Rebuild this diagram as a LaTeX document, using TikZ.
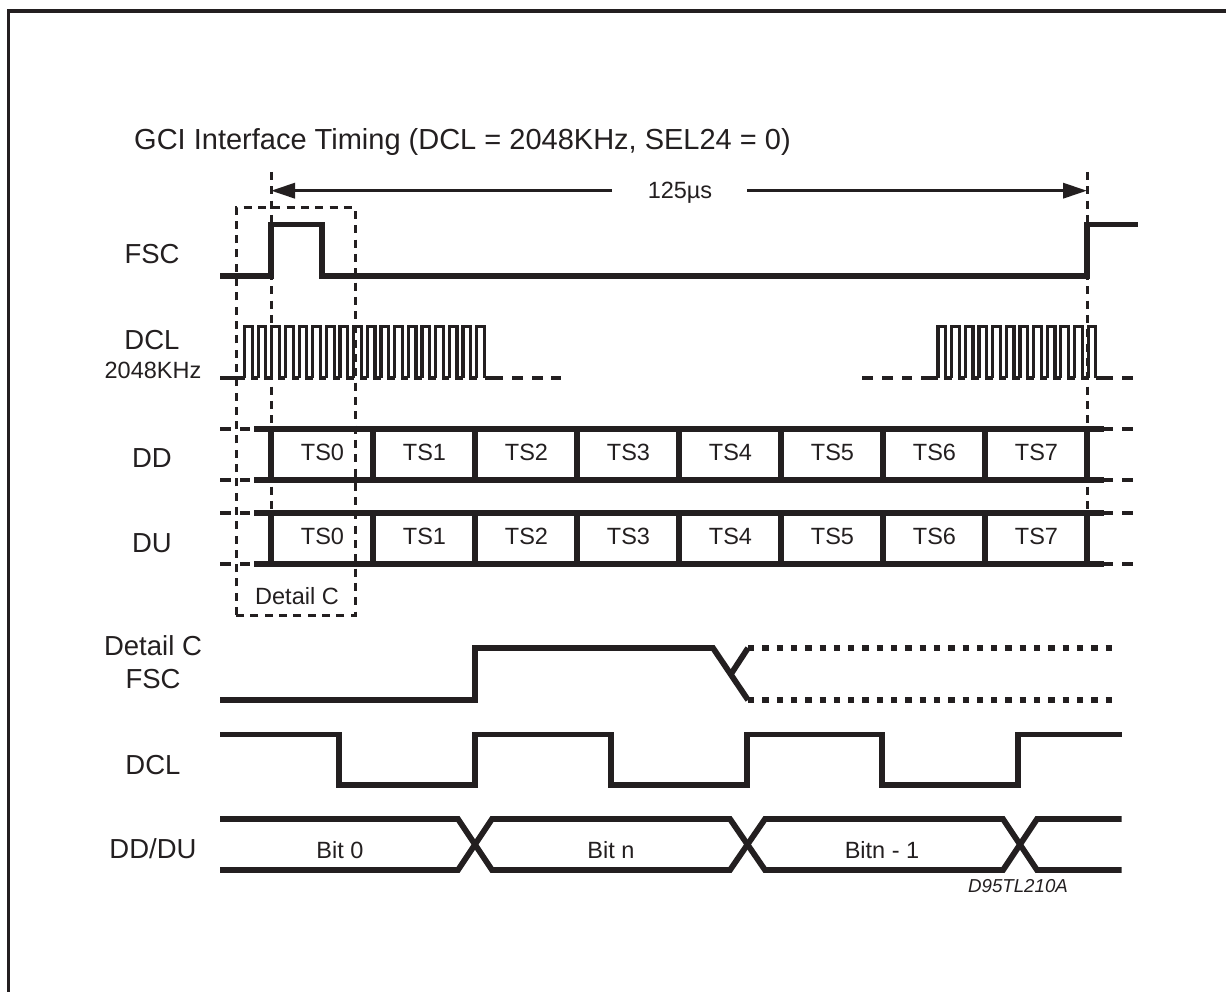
\documentclass[tikz,border=0pt]{standalone}
\usepackage{fontspec}
\setmainfont{Liberation Sans}
\usetikzlibrary{arrows.meta}
\definecolor{ink}{HTML}{231F20}
\tikzset{
  x=1pt,y=-1pt,
  frameline/.style={ink,line width=3.2pt},
  thick wave/.style={ink,line width=5.8pt,line cap=butt,line join=miter},
  thin wave/.style={ink,line width=3.2pt,line join=miter},
  guide/.style={ink,line width=3pt,dash pattern=on 8pt off 6.3pt},
  lowdash/.style={ink,line width=4pt},
  dots/.style={ink,line width=5.8pt,dash pattern=on 6.3pt off 8pt},
  measure/.style={ink,line width=3.4pt},
  big/.style={text=ink,inner sep=0pt,anchor=base,font=\fontsize{27.5}{27.5}\selectfont},
  titletext/.style={text=ink,inner sep=0pt,anchor=base,font=\fontsize{29}{29}\selectfont},
  small/.style={text=ink,inner sep=0pt,anchor=base,font=\fontsize{23.5}{23.5}\selectfont},
  ref/.style={text=ink,inner sep=0pt,anchor=base,font=\fontsize{18.7}{18.7}\selectfont\itshape},
}
\newcommand{\clkpulses}[3]{% start x, count, y unused
  \foreach \k in {1,...,#2}{
    \pgfmathsetmacro{\xa}{#1+(\k-1)*13.65}
    \pgfmathsetmacro{\xb}{\xa+7.7}
    \pgfmathsetmacro{\xc}{\xa+13.65}
    \ifnum\k<#2
      \draw[thin wave] (\xa,378) -- (\xa,326.5) -- (\xb,326.5) -- (\xb,378) -- (\xc,378);
    \else
      \draw[thin wave] (\xa,378) -- (\xa,326.5) -- (\xb,326.5) -- (\xb,378);
    \fi
  }
}
\begin{document}
\begin{tikzpicture}
\useasboundingbox (0,0) rectangle (1226,992);
\fill[white] (0,0) rectangle (1226,992);
% frame
\draw[frameline] (8.5,992) -- (8.5,11) -- (1226,11);
% title
\node[titletext] (title) at (462.5,150) {GCI Interface Timing (DCL = 2048KHz, SEL24 = 0)};
% measure
\coordinate (ml) at (271,190.7);
\coordinate (mr) at (1087,190.7);
\coordinate (mg1) at (612,190.7);
\coordinate (mg2) at (747,190.7);
\node[small] (period) at (680,198.5) {125µs};
\draw[measure,-{Triangle[length=24pt,width=15pt]}] (mg1) -- (ml);
\draw[measure,-{Triangle[length=24pt,width=15pt]}] (mg2) -- (mr);
% labels
\node[big] (lfsc) at (152,264) {FSC};
\node[big] (ldcl) at (152,349) {DCL};
\node[small] (lfreq) at (153,378) {2048KHz};
\node[big] (ldd) at (152,467) {DD};
\node[big] (ldu) at (152,552) {DU};
\node[big] (ldet) at (153,655) {Detail C};
\node[big] (lfsc2) at (153,688) {FSC};
\node[big] (ldcl2) at (153,774) {DCL};
\node[big] (ldddu) at (153,858) {DD/DU};
% FSC
\draw[thick wave] (220,276) -- (271,276) -- (271,224.5) -- (322,224.5) -- (322,276) -- (1087,276) -- (1087,224.5) -- (1138,224.5);
% DCL fast
\draw[thin wave] (220,378) -- (244.5,378);
\clkpulses{244.5}{18}{0}
\draw[thin wave] (484.7,378) -- (492,378);
\draw[lowdash] (492,378) -- (503,378) (512,378) -- (523,378) (532,378) -- (543,378) (551,378) -- (561,378);
\draw[lowdash] (862,378) -- (873,378) (882,378) -- (893,378) (902,378) -- (912,378);
\draw[thin wave] (921,378) -- (938,378);
\clkpulses{938}{12}{0}
\draw[thin wave] (1095.6,378) -- (1113,378);
\draw[lowdash] (1122,378) -- (1133,378);
% buses
\foreach \yt/\yb/\ybase in {429/480/460, 513/564/544}{
  \foreach \yy in {\yt,\yb}{
    \draw[thick wave] (254,\yy) -- (1104,\yy);
    \draw[lowdash] (220,\yy) -- (231,\yy) (240,\yy) -- (250,\yy) (1104,\yy) -- (1113,\yy) (1122,\yy) -- (1133,\yy);
  }
  \foreach \xx in {271,373,475,577,679,781,883,985,1087}{
    \draw[thick wave] (\xx,\yt) -- (\xx,\yb);
  }
  \foreach \n [count=\i from 0] in {TS0,TS1,TS2,TS3,TS4,TS5,TS6,TS7}{
    \pgfmathsetmacro{\cx}{322.5+102*\i}
    \node[small] (ts\i-\yt) at (\cx,\ybase) {\n};
  }
}
% guides
\draw[guide] (271,172) -- (271,510);
\draw[guide] (1087,172) -- (1087,510);
\draw[guide] (236,615) -- (236,208) -- (355,208) -- (355,615) -- cycle;
\node[small] (detc) at (297,604) {Detail C};
% Detail C FSC
\draw[thick wave] (220,700) -- (475,700) -- (475,648) -- (713,648) -- (748,700);
\draw[thick wave] (731,674) -- (748,648);
\draw[dots] (748,648) -- (1115,648);
\draw[dots] (748,700) -- (1115,700);
% DCL slow
\draw[thick wave] (220,734.5) -- (339,734.5) -- (339,785) -- (475,785) -- (475,734.5) -- (611,734.5) -- (611,785) -- (747,785) -- (747,734.5) -- (882,734.5) -- (882,785) -- (1018,785) -- (1018,734.5) -- (1121.5,734.5);
% DD/DU
\draw[thick wave] (220,819) -- (458,819) -- (492,870) -- (730,870) -- (765,819) -- (1003,819) -- (1037,870) -- (1121.5,870);
\draw[thick wave] (220,870) -- (458,870) -- (492,819) -- (730,819) -- (765,870) -- (1003,870) -- (1037,819) -- (1121.5,819);
\node[small] (b0) at (340,858) {Bit 0};
\node[small] (bn) at (611,858) {Bit n};
\node[small] (bn1) at (882,858) {Bitn - 1};
\node[ref] (drw) at (1018,892) {D95TL210A};
\end{tikzpicture}
\end{document}
